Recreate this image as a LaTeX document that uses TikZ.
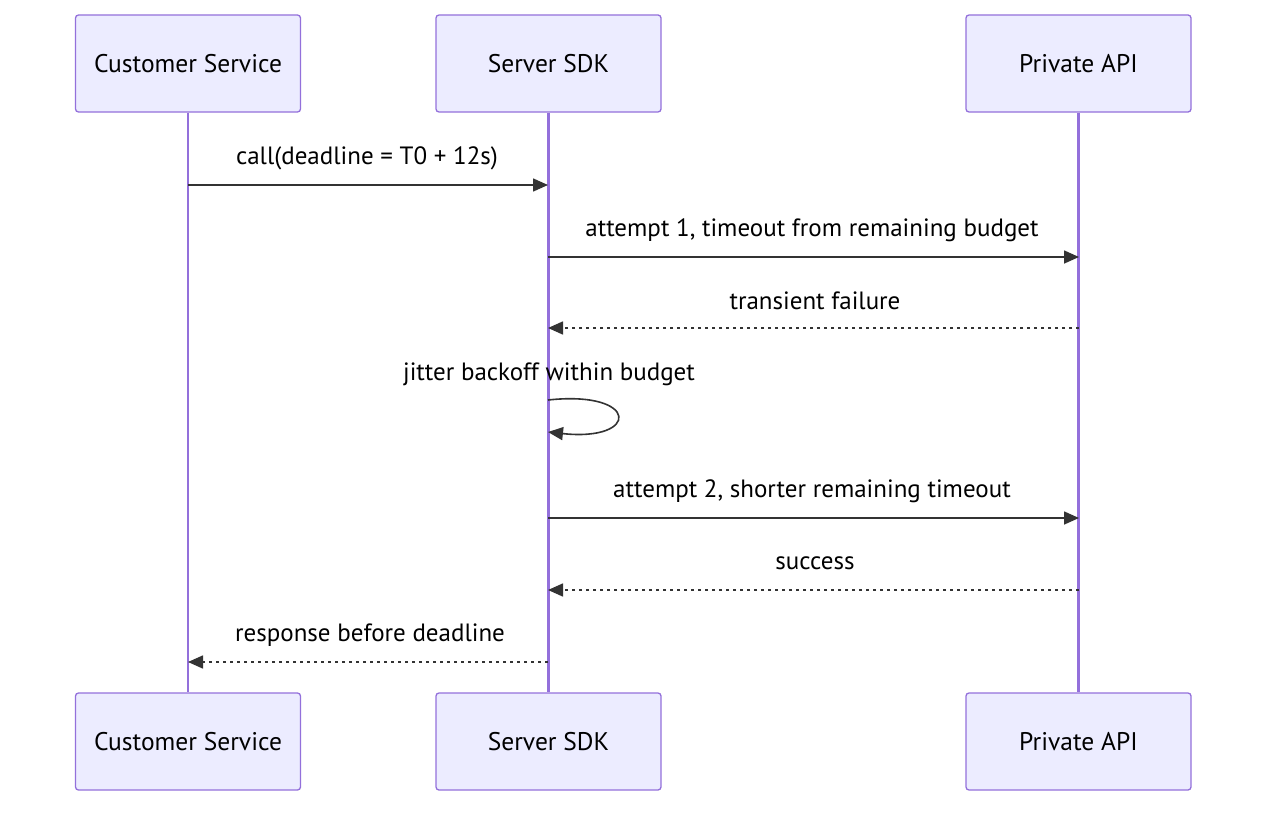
\documentclass[tikz,border=0pt]{standalone}
\usepackage{fontspec}
\setmainfont{PT Sans}
\usetikzlibrary{arrows.meta}
\definecolor{actfill}{HTML}{ECECFF}
\definecolor{actline}{HTML}{9370DB}
\definecolor{msgline}{HTML}{333333}
\tikzset{
  actor/.style={draw=actline, fill=actfill, line width=1.3pt, rounded corners=3pt,
    minimum width=225pt, minimum height=97pt, inner sep=0pt,
    font=\fontsize{25.5}{30}\selectfont, text=black},
  lifeline/.style={draw=actline, line width=2.6pt},
  msg/.style={draw=msgline, line width=1.6pt, -{Triangle[length=15pt,width=13pt]}},
  reply/.style={msg, dash pattern=on 3.5pt off 3.5pt},
  mlabel/.style={font=\fontsize{25}{30}\selectfont, text=black, inner sep=0pt}
}
\begin{document}
\begin{tikzpicture}[x=1pt,y=-1pt]
\useasboundingbox (0,0) rectangle (1280,816);
% actors
\node[actor] (cs) at (188,63.5) {Customer Service};
\node[actor] (sdk) at (548.5,63.5) {Server SDK};
\node[actor] (api) at (1078.5,63.5) {Private API};
\node[actor] (cs2) at (188,741.5) {Customer Service};
\node[actor] (sdk2) at (548.5,741.5) {Server SDK};
\node[actor] (api2) at (1078.5,741.5) {Private API};
% lifelines
\draw[lifeline] (cs.south) -- (cs2.north);
\draw[lifeline] (sdk.south) -- (sdk2.north);
\draw[lifeline] (api.south) -- (api2.north);
% message anchor points
\coordinate (a1) at (188,185);   \coordinate (b1) at (548,185);
\coordinate (a2) at (548,257);   \coordinate (b2) at (1079,257);
\coordinate (a3) at (1079,328);  \coordinate (b3) at (548,328);
\coordinate (a4) at (548,400);   \coordinate (b4) at (548,432);
\coordinate (a5) at (548,518);   \coordinate (b5) at (1079,518);
\coordinate (a6) at (1079,590);  \coordinate (b6) at (548,590);
\coordinate (a7) at (548,662);   \coordinate (b7) at (188,662);
% messages
\draw[msg] (a1) -- (b1);
\node[mlabel] (l1) at (367,158) {call(deadline = T0 + 12s)};
\draw[msg] (a2) -- (b2);
\node[mlabel] (l2) at (812,230) {attempt 1, timeout from remaining budget};
\draw[reply] (a3) -- (b3);
\node[mlabel] (l3) at (815,301) {transient failure};
\draw[msg] (a4) .. controls (640,390) and (640,442) .. (b4);
\node[mlabel] (l4) at (549,374) {jitter backoff within budget};
\draw[msg] (a5) -- (b5);
\node[mlabel] (l5) at (812,491) {attempt 2, shorter remaining timeout};
\draw[reply] (a6) -- (b6);
\node[mlabel] (l6) at (815,563) {success};
\draw[reply] (a7) -- (b7);
\node[mlabel] (l7) at (370,635) {response before deadline};
\end{tikzpicture}
\end{document}
